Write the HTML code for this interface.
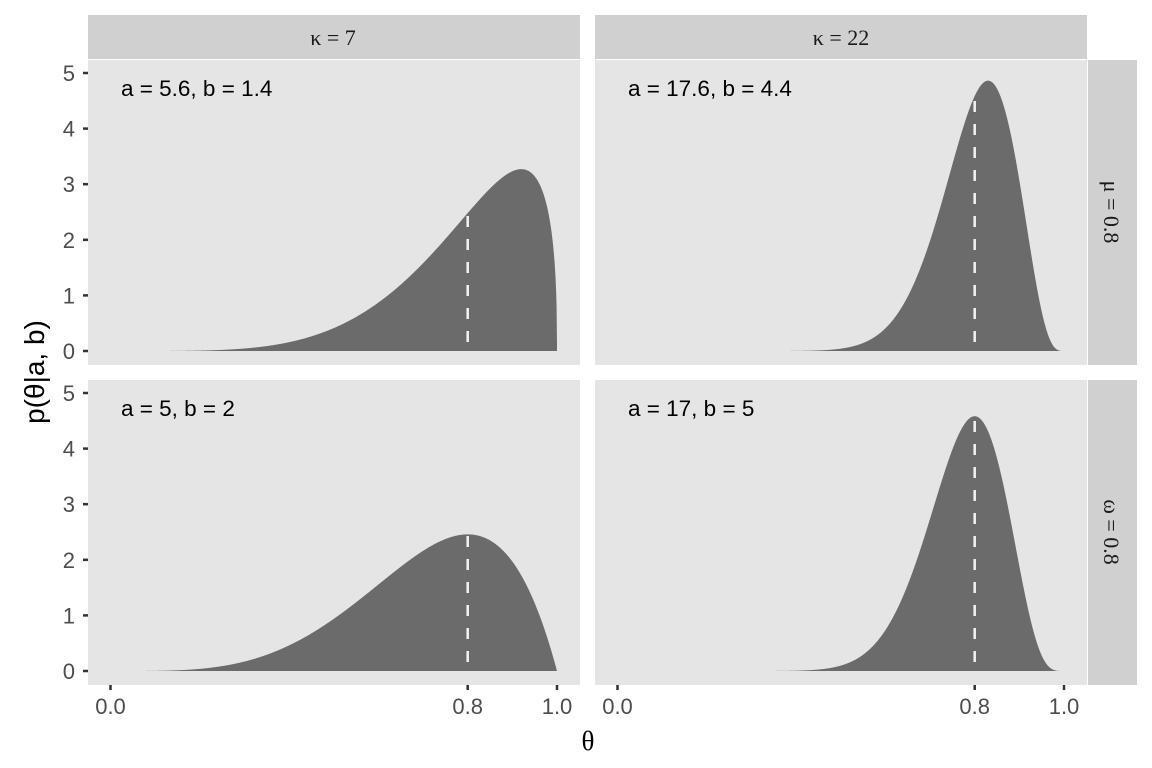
<!DOCTYPE html>
<html><head><meta charset="utf-8"><style>
body{margin:0;background:#fff}
svg{display:block;font-family:"Liberation Sans",sans-serif}
</style></head><body>
<svg id="s" width="1152" height="768" xmlns="http://www.w3.org/2000/svg">
<rect width="1152" height="768" fill="#fff"/>
<rect x="88" y="15" width="492" height="44" fill="#d0d0d0"/>
<rect x="595" y="15" width="492" height="44" fill="#d0d0d0"/>
<text x="333" y="45" font-size="22" text-anchor="middle" fill="#1a1a1a" font-family="Liberation Serif,serif">κ = 7</text>
<text x="841" y="45" font-size="22" text-anchor="middle" fill="#1a1a1a" font-family="Liberation Serif,serif">κ = 22</text>
<rect x="1088" y="60" width="49" height="305" fill="#d0d0d0"/>
<rect x="1088" y="380" width="49" height="305" fill="#d0d0d0"/>
<text transform="translate(1104,212) rotate(90)" font-size="22" text-anchor="middle" fill="#1a1a1a" font-family="Liberation Serif,serif">μ = 0.8</text>
<text transform="translate(1104,532) rotate(90)" font-size="22" text-anchor="middle" fill="#1a1a1a" font-family="Liberation Serif,serif">ω = 0.8</text>
<g id="panels"></g>
<text x="588" y="750" font-size="27" text-anchor="middle" fill="#000" font-family="Liberation Serif,serif">θ</text>
<text transform="translate(44,372) rotate(-90)" font-size="28" text-anchor="middle" fill="#000">p(θ|a, b)</text>
</svg>
<script>
function lg(z){var g=7,c=[0.99999999999980993,676.5203681218851,-1259.1392167224028,771.32342877765313,-176.61503916999185,12.507343278686905,-0.13857109526572012,9.9843695780195716e-6,1.5056327351493116e-7];
z-=1;var x=c[0];for(var i=1;i<g+2;i++)x+=c[i]/(z+i);var t=z+g+0.5;return 0.5*Math.log(2*Math.PI)+(z+0.5)*Math.log(t)-t+Math.log(x);}
function db(x,a,b){if(x<=0||x>=1)return 0;return Math.exp((a-1)*Math.log(x)+(b-1)*Math.log(1-x)+lg(a+b)-lg(a)-lg(b));}
var P=[{x0:88,y0:60,a:5.6,b:1.4,lab:"a = 5.6, b = 1.4",xt:false},{x0:595,y0:60,a:17.6,b:4.4,lab:"a = 17.6, b = 4.4",xt:false},
{x0:88,y0:380,a:5,b:2,lab:"a = 5, b = 2",xt:true},{x0:595,y0:380,a:17,b:5,lab:"a = 17, b = 5",xt:true}];
var h="";
P.forEach(function(p){
 var W=492,H=305;h+='<rect x="'+p.x0+'" y="'+p.y0+'" width="'+W+'" height="'+H+'" fill="#e5e5e5"/>';
 var X=function(t){return p.x0+22.5+446.5*t},Y0=p.y0+291,Y=function(v){return Y0-55.6*v};
 var pts=[X(0)+","+Y0];for(var i=0;i<=1000;i++){var t=i/1000;var d=db(t,p.a,p.b);if(i==1000&&p.b<2)d=db(0.99999,p.a,p.b);pts.push(X(t).toFixed(2)+","+Y(Math.min(d,6)).toFixed(2));}
 pts.push(X(1)+","+Y0);
 h+='<polygon points="'+pts.join(" ")+'" fill="#6b6b6b"/>';
 h+='<line x1="'+X(0.8)+'" x2="'+X(0.8)+'" y1="'+(Y0-9)+'" y2="'+Y(db(0.8,p.a,p.b))+'" stroke="#f2f2f2" stroke-width="2.5" stroke-dasharray="11,12"/>';
 h+='<text x="'+(p.x0+33)+'" y="'+(p.y0+36)+'" font-size="22.5" fill="#000">'+p.lab+'</text>';
 if(p.x0==88){for(var k=0;k<=5;k++){var yy=Y(k);h+='<line x1="83" x2="88" y1="'+yy+'" y2="'+yy+'" stroke="#333" stroke-width="2.5"/><text x="75" y="'+(yy+8)+'" font-size="22" text-anchor="end" fill="#4d4d4d">'+k+'</text>';}}
 if(p.xt){[[0,"0.0"],[0.8,"0.8"],[1,"1.0"]].forEach(function(q){var xx=X(q[0]);h+='<line x1="'+xx+'" x2="'+xx+'" y1="685" y2="690" stroke="#333" stroke-width="2.5"/><text x="'+xx+'" y="714" font-size="22" text-anchor="middle" fill="#4d4d4d">'+q[1]+'</text>';});}
});
document.getElementById("panels").innerHTML=h;
</script>
</body></html>
